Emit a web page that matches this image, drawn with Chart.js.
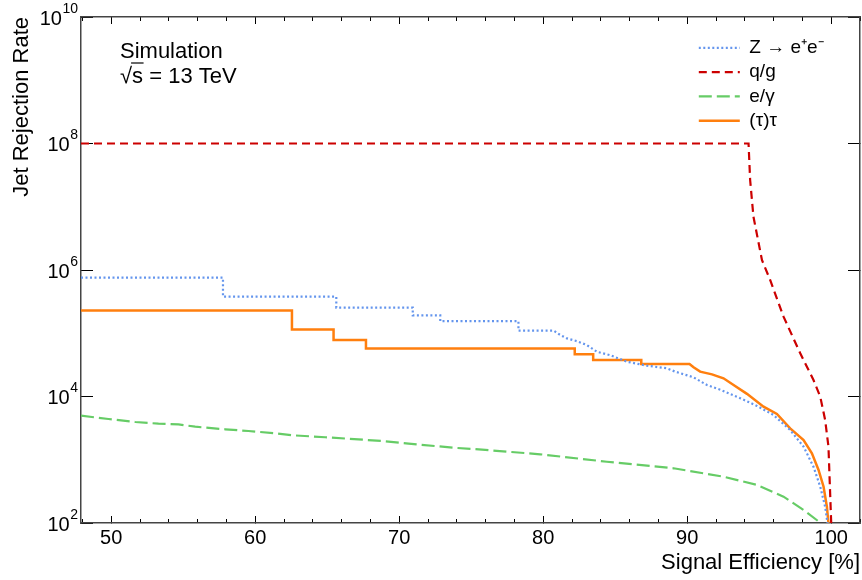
<!DOCTYPE html>
<html><head><meta charset="utf-8">
<script src="https://cdn.jsdelivr.net/npm/chart.js@4.4.1/dist/chart.umd.min.js"></script>
<style>html,body{margin:0;padding:0;background:#fff}canvas{display:block}</style>
</head><body>
<canvas id="c" width="862" height="580"></canvas>
<script>
const FONT = '"Liberation Sans", Arial, Helvetica, sans-serif';

// ---- data ----
const seriesLabels = ['Z \u2192 e\u207Ae\u207B', 'q/g', 'e/\u03B3', '(\u03C4)\u03C4'];
const xTitle = 'Signal Efficiency [%]';
const yTitle = 'Jet Rejection Rate';
const annotTitle = 'Simulation';
const annotEnergy = ['\u221A', 's', ' = 13 TeV'];

const xMin = 47.9, xMax = 102;
const xMajorTicks = [50, 60, 70, 80, 90, 100];
const xMinorTicks = [48, 52, 54, 56, 58, 62, 64, 66, 68, 72, 74, 76, 78, 82, 84, 86, 88, 92, 94, 96, 98, 102];
const yMin = 1e2, yMax = 1e10;
const yTickValues = [1e2, 1e4, 1e6, 1e8, 1e10];
const yTickBase = '10';
const yTickExp = ['2', '4', '6', '8', '10'];

const zeeX = [47.9, 57.76, 57.76, 65.63, 65.63, 70.94, 70.94, 72.85, 72.85, 78.28, 78.28, 80.72, 81.18, 81.65, 82.34, 83.03, 83.73, 84.65, 85.81, 87.20, 88.59, 89.17, 90.44, 91.37, 92.33, 93.68, 94.84, 95.99, 97.15, 98.08, 98.77, 99.24, 99.58, 99.74, 99.8];
const zeeY = [7.55e5, 7.55e5, 3.79e5, 3.79e5, 2.55e5, 2.55e5, 1.92e5, 1.92e5, 1.55e5, 1.55e5, 1.10e5, 1.10e5, 9.4e4, 8.3e4, 7.5e4, 6.5e4, 5.1e4, 4.5e4, 3.55e4, 3.07e4, 2.79e4, 2.47e4, 2.01e4, 1.52e4, 1.27e4, 9.4e3, 7.1e3, 5.1e3, 2.95e3, 1.61e3, 776, 375, 181, 100, 50];

const qgX = [47.9, 94.26, 94.37, 94.60, 95.19, 95.76, 96.69, 97.85, 98.77, 99.24, 99.58, 99.81, 100.0, 100.02];
const qgY = [1e8, 1e8, 2.65e7, 6.97e6, 1.44e6, 6.95e5, 1.83e5, 4.82e4, 1.82e4, 9.93e3, 4.25e3, 1.61e3, 100, 50];

const egX = [47.9, 49.81, 51.67, 53.28, 54.67, 55.83, 57.92, 59.53, 61.39, 62.55, 64.86, 67.17, 69.03, 70.65, 73.89, 75.16, 79.79, 84.42, 89.05, 92.52, 94.84, 96.69, 98.08, 99.24, 99.4];
const egY = [4970, 4410, 3950, 3720, 3630, 3330, 3030, 2850, 2620, 2440, 2270, 2100, 1960, 1800, 1540, 1480, 1220, 930, 733, 540, 400, 261, 161, 101, 80];

const tauX = [47.9, 62.55, 62.55, 65.44, 65.44, 67.69, 67.69, 82.19, 82.19, 83.47, 83.47, 86.81, 86.81, 90.16, 90.44, 90.90, 91.72, 92.52, 93.22, 94.15, 95.30, 96.23, 97.15, 98.08, 98.66, 99.12, 99.47, 99.70, 99.81, 99.86];
const tauY = [2.28e5, 2.28e5, 1.15e5, 1.15e5, 7.8e4, 7.8e4, 5.74e4, 5.74e4, 4.65e4, 4.65e4, 3.78e4, 3.78e4, 3.27e4, 3.27e4, 2.9e4, 2.47e4, 2.24e4, 1.94e4, 1.52e4, 1.10e4, 6.9e3, 5.29e3, 3.14e3, 2.05e3, 1.26e3, 689, 375, 181, 100, 50];

const pts = (xs, ys) => xs.map((x, i) => ({x: x, y: ys[i]}));

const frameColor = '#444';
const tickFont = {family: FONT, size: 20};
const titleFont = {family: FONT, size: 22};

function noPad(s) { s.paddingTop = 0; s.paddingBottom = 0; s.paddingLeft = 0; s.paddingRight = 0; }

function mirrorX(pos, ticks, len, weight, showBorder) {
  return {
    type: 'linear', position: pos, min: xMin, max: xMax, weight: weight,
    afterBuildTicks: s => { s.ticks = ticks.map(v => ({value: v})); },
    afterFit: s => { s.height = 0; noPad(s); },
    grid: {drawOnChartArea: false, drawTicks: true, tickLength: len, tickColor: '#000', tickWidth: 1},
    border: {display: showBorder, color: frameColor, width: 1.5},
    ticks: {display: false}
  };
}

const annotPlugin = {
  id: 'annot',
  afterDraw(chart) {
    const ctx = chart.ctx, a = chart.chartArea;
    ctx.save();
    ctx.fillStyle = '#000';
    ctx.font = '22px ' + FONT;
    ctx.textBaseline = 'alphabetic';
    const x0 = a.left + 39;
    ctx.fillText(annotTitle, x0, a.top + 41);
    const yb = a.top + 66;
    let x = x0;
    ctx.fillText(annotEnergy[0], x, yb);
    x += ctx.measureText(annotEnergy[0]).width;
    const sW = ctx.measureText(annotEnergy[1]).width;
    ctx.fillText(annotEnergy[1], x, yb);
    ctx.strokeStyle = '#000';
    ctx.lineWidth = 1.2;
    ctx.beginPath();
    ctx.moveTo(x - 1, yb - 20);
    ctx.lineTo(x + sW + 0.5, yb - 20);
    ctx.stroke();
    x += sW;
    ctx.fillText(annotEnergy[2], x, yb);
    ctx.restore();
  }
};

const yLabelPlugin = {
  id: 'yLabels',
  afterDraw(chart) {
    const s = chart.scales.y, ctx = chart.ctx;
    ctx.save();
    ctx.fillStyle = '#000';
    ctx.textBaseline = 'middle';
    ctx.textAlign = 'right';
    const xr = s.right - 3;
    yTickValues.forEach((v, i) => {
      const py = s.getPixelForValue(v);
      ctx.font = '14px ' + FONT;
      const ew = ctx.measureText(yTickExp[i]).width;
      ctx.fillText(yTickExp[i], xr, py - 8);
      ctx.font = '20px ' + FONT;
      ctx.fillText(yTickBase, xr - ew - 0.5, py + 2);
    });
    ctx.restore();
  }
};

const legendPlace = {
  id: 'legendPlace',
  afterLayout(chart) {
    const lg = chart.legend, a = chart.chartArea;
    if (!lg) return;
    lg.left = a.right - 166.5;
    lg.top = a.top + 16;
    lg.right = a.right;
    lg.bottom = a.bottom;
  }
};

new Chart(document.getElementById('c'), {
  type: 'line',
  data: {
    datasets: [
      {label: seriesLabels[0], data: pts(zeeX, zeeY), borderColor: '#6495ed', borderWidth: 2.2, borderDash: [2, 2.5]},
      {label: seriesLabels[1], data: pts(qgX, qgY), borderColor: '#cc0000', borderWidth: 2.2, borderDash: [8, 5]},
      {label: seriesLabels[2], data: pts(egX, egY), borderColor: '#66cc66', borderWidth: 2.2, borderDash: [13, 5]},
      {label: seriesLabels[3], data: pts(tauX, tauY), borderColor: '#ff7f0e', borderWidth: 2.5}
    ]
  },
  plugins: [annotPlugin, yLabelPlugin, legendPlace],
  options: {
    responsive: false,
    animation: false,
    devicePixelRatio: 1,
    events: [],
    layout: {padding: {top: 17, right: 2, left: 0, bottom: 0}},
    elements: {point: {radius: 0}, line: {tension: 0, fill: false}},
    plugins: {
      tooltip: {enabled: false},
      legend: {
        position: 'chartArea',
        align: 'start',
        labels: {
          usePointStyle: true,
          pointStyle: 'line',
          pointStyleWidth: 41,
          padding: 5.3,
          color: '#000',
          font: {family: FONT, size: 19},
          generateLabels(chart) {
            const items = Chart.defaults.plugins.legend.labels.generateLabels(chart);
            items.forEach(it => {
              const ds = chart.data.datasets[it.datasetIndex];
              it.lineDash = ds.borderDash || [];
              it.lineWidth = ds.borderWidth;
              it.strokeStyle = ds.borderColor;
              it.pointStyle = 'line';
              it.lineCap = 'butt';
            });
            return items;
          }
        }
      }
    },
    scales: {
      x: {
        type: 'linear', position: 'bottom', min: xMin, max: xMax, weight: 1,
        afterBuildTicks: s => { s.ticks = xMajorTicks.map(v => ({value: v})); },
        afterFit: s => { s.height = 57; noPad(s); },
        grid: {drawOnChartArea: false, drawTicks: true, tickLength: -7, tickColor: '#000', tickWidth: 1},
        border: {display: true, color: frameColor, width: 1.5},
        ticks: {padding: 10, color: '#000', font: tickFont, autoSkip: false, maxRotation: 0, minRotation: 0},
        title: {display: true, text: xTitle, align: 'end', color: '#000', font: titleFont, padding: {top: 0, bottom: 4}}
      },
      xm: mirrorX('bottom', xMinorTicks, -4, 0, false),
      xt: mirrorX('top', xMajorTicks, -7, 1, true),
      xtm: mirrorX('top', xMinorTicks, -4, 0, false),
      y: {
        type: 'logarithmic', position: 'left', min: yMin, max: yMax,
        afterBuildTicks: s => { s.ticks = yTickValues.map(v => ({value: v})); },
        afterFit: s => { s.width = 81; noPad(s); },
        grid: {drawOnChartArea: false, drawTicks: true, tickLength: -12, tickColor: '#000', tickWidth: 1},
        border: {display: true, color: frameColor, width: 1.5},
        ticks: {display: false},
        title: {display: true, text: yTitle, align: 'end', color: '#000', font: titleFont, padding: {top: 9, bottom: 0}}
      },
      yr: {
        type: 'logarithmic', position: 'right', min: yMin, max: yMax,
        afterBuildTicks: s => { s.ticks = yTickValues.map(v => ({value: v})); },
        afterFit: s => { s.width = 0; noPad(s); },
        grid: {drawOnChartArea: false, drawTicks: true, tickLength: -12, tickColor: '#000', tickWidth: 1},
        border: {display: true, color: frameColor, width: 1.5},
        ticks: {display: false}
      }
    }
  }
});
</script>
</body></html>
